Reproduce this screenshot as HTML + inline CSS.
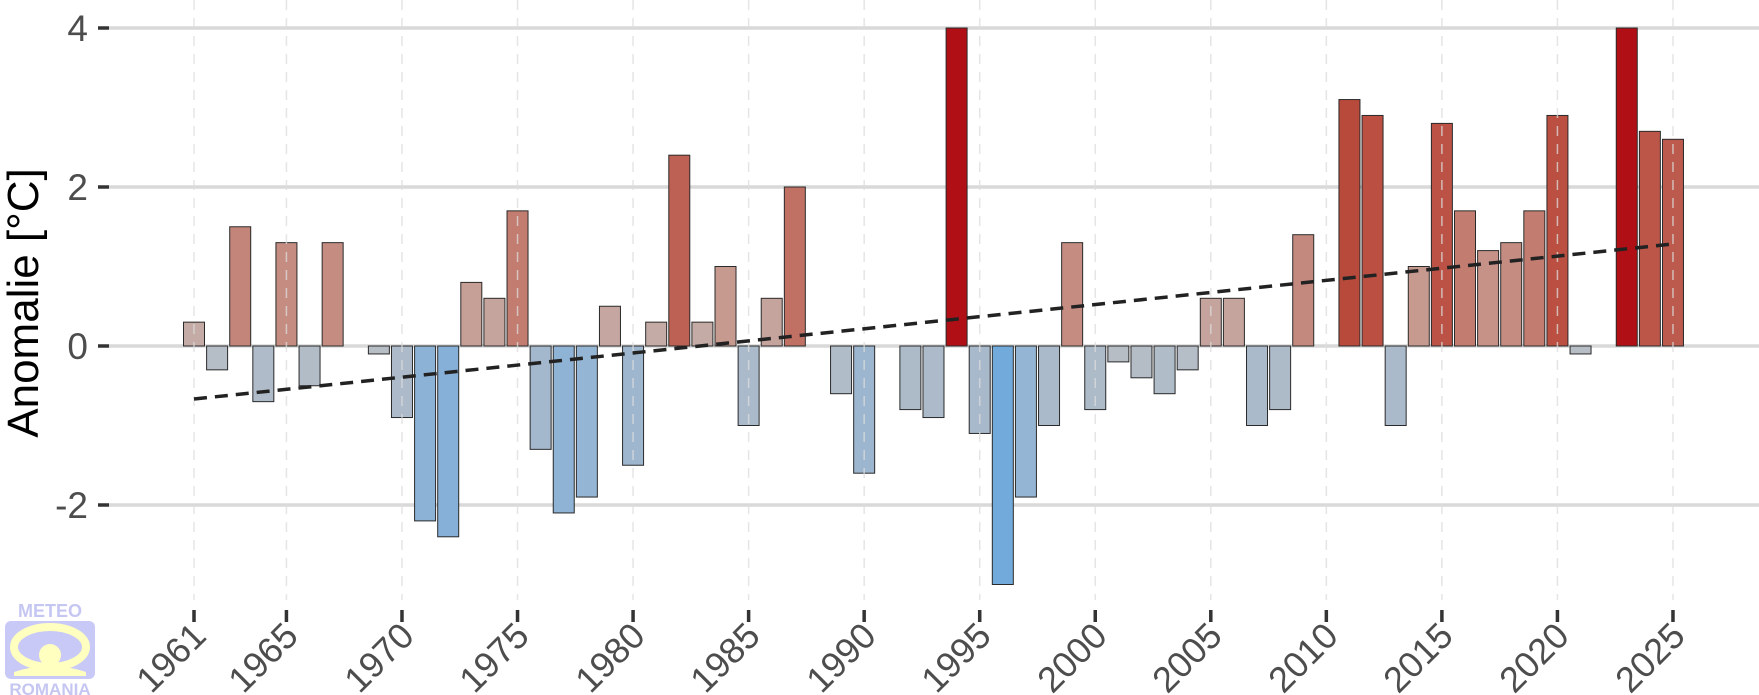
<!DOCTYPE html>
<html><head><meta charset="utf-8"><style>
html,body{margin:0;padding:0;background:#fff;}
svg{display:block;font-family:"Liberation Sans",sans-serif;}
</style></head><body>
<svg id="s" width="1759" height="695" viewBox="0 0 1759 695" xmlns="http://www.w3.org/2000/svg">
<g id="grid"></g>
<g id="bars"></g>
<g id="over"></g>
<line x1="194" y1="399" x2="1673" y2="244" stroke="#222" stroke-width="3.5" stroke-dasharray="13,8"/>
<g fill="#4d4d4d" font-size="37" text-anchor="end">
<text x="88" y="41">4</text>
<text x="88" y="200">2</text>
<text x="88" y="359">0</text>
<text x="88" y="518">-2</text>
</g>
<text transform="translate(38,303) rotate(-90)" font-size="44" text-anchor="middle" fill="#000">Anomalie [°C]</text>
<g fill="#4d4d4d" font-size="36" text-anchor="end">
<text transform="translate(208,638) rotate(-45)">1961</text>
<text transform="translate(300,638) rotate(-45)">1965</text>
<text transform="translate(416,638) rotate(-45)">1970</text>
<text transform="translate(531,638) rotate(-45)">1975</text>
<text transform="translate(647,638) rotate(-45)">1980</text>
<text transform="translate(762,638) rotate(-45)">1985</text>
<text transform="translate(878,638) rotate(-45)">1990</text>
<text transform="translate(993,638) rotate(-45)">1995</text>
<text transform="translate(1109,638) rotate(-45)">2000</text>
<text transform="translate(1224,638) rotate(-45)">2005</text>
<text transform="translate(1340,638) rotate(-45)">2010</text>
<text transform="translate(1455,638) rotate(-45)">2015</text>
<text transform="translate(1571,638) rotate(-45)">2020</text>
<text transform="translate(1687,638) rotate(-45)">2025</text>
</g>
<g>
<rect x="5" y="621" width="90" height="58" rx="6" fill="#c9c9f7"/>
<ellipse cx="50" cy="647" rx="36" ry="20" fill="none" stroke="#ffffc0" stroke-width="8"/>
<circle cx="50" cy="655" r="11" fill="#ffffc0"/>
<path d="M14 672 Q50 660 86 672 L86 676 L14 676 Z" fill="#ffffc0"/>
<text x="50" y="617" font-size="18" font-weight="bold" fill="#c6c6f2" text-anchor="middle">METEO</text>
<text x="50" y="695" font-size="17" font-weight="bold" fill="#c6c6f2" text-anchor="middle">ROMANIA</text>
</g>
</svg>
<script>
const NS="http://www.w3.org/2000/svg";
const vals=[0.3,-0.3,1.5,-0.7,1.3,-0.5,1.3,0,-0.1,-0.9,-2.2,-2.4,0.8,0.6,1.7,-1.3,-2.1,-1.9,0.5,-1.5,0.3,2.4,0.3,1.0,-1.0,0.6,2.0,0,-0.6,-1.6,0,-0.8,-0.9,4.0,-1.1,-3.0,-1.9,-1.0,1.3,-0.8,-0.2,-0.4,-0.6,-0.3,0.6,0.6,-1.0,-0.8,1.4,0,3.1,2.9,-1.0,1.0,2.8,1.7,1.2,1.3,1.7,2.9,-0.1,0,4.0,2.7,2.6];
const X=y=>194+(y-1961)*23.109, Y=v=>346-v*79.5;
const g=document.getElementById('grid'), b=document.getElementById('bars'), o=document.getElementById('over');
function el(t,a,p){const e=document.createElementNS(NS,t);for(const k in a)e.setAttribute(k,a[k]);p.appendChild(e);return e;}
[4,2,0,-2].forEach(v=>{
  el('line',{x1:109,x2:1759,y1:Y(v),y2:Y(v),stroke:'#d9d9d9','stroke-width':3.5},g);
  el('line',{x1:98,x2:109,y1:Y(v),y2:Y(v),stroke:'#333','stroke-width':3.5},g);
});
function interp(anc,v){
  for(let i=0;i<anc.length-1;i++){const a=anc[i],c=anc[i+1];
    if(v<=c[0]){const t=(v-a[0])/(c[0]-a[0]);return 'rgb('+a[1].map((x,k)=>Math.round(x+(c[1][k]-x)*t))+')';}}
  return 'rgb('+anc[anc.length-1][1]+')';
}
const pos=[[0,[194,178,176]],[1,[199,154,144]],[1.7,[194,124,112]],[2.8,[187,82,69]],[3.1,[184,74,60]],[4,[176,16,21]]];
const neg=[[0,[186,190,196]],[1,[170,186,202]],[2,[146,180,212]],[3,[115,170,220]]];
function col(v){return v>=0?interp(pos,v):interp(neg,-v);}
vals.forEach((v,i)=>{
  if(v===0)return;
  const x=X(1961+i)-10.5, y=Math.min(Y(v),346), h=Math.abs(v)*79.5;
  el('rect',{x:x,y:y,width:21,height:h,fill:col(v),stroke:'#2a2a2a','stroke-width':1},b);
});
for(let yr=1961;yr<=2025;yr+=(yr==1961?4:5)){
  el('line',{x1:X(yr),x2:X(yr),y1:0,y2:600,stroke:'#dcdcdc','stroke-opacity':0.75,'stroke-width':1.5,'stroke-dasharray':'10,8'},o);
  el('line',{x1:X(yr),x2:X(yr),y1:610,y2:622,stroke:'#333','stroke-width':3.5},o);
}
</script>
</body></html>
